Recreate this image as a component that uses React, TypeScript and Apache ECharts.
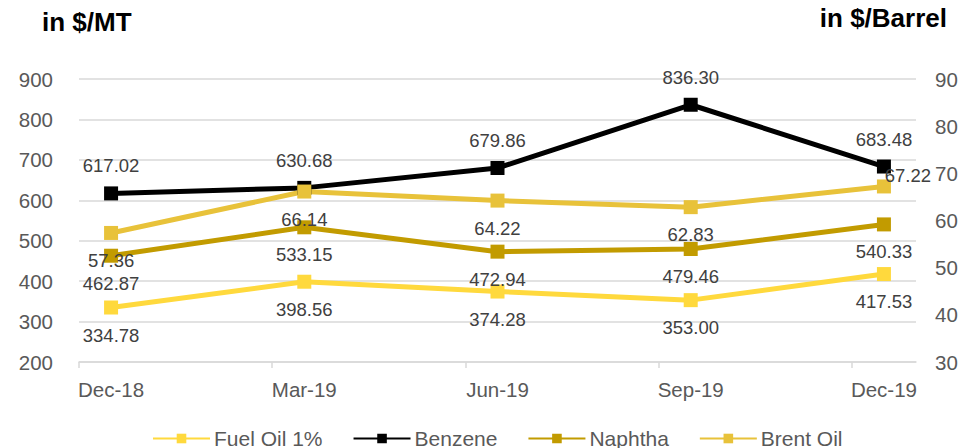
import React, { useEffect, useRef } from "react";
import * as echarts from "echarts";

const categories = ["Dec-18", "Mar-19", "Jun-19", "Sep-19", "Dec-19"];
const fuelOil = [334.78, 398.56, 374.28, 353.0, 417.53];
const benzene = [617.02, 630.68, 679.86, 836.3, 683.48];
const naphtha = [462.87, 533.15, 472.94, 479.46, 540.33];
const brentOil = [57.36, 66.14, 64.22, 62.83, 67.22];
const leftTicks = [200, 300, 400, 500, 600, 700, 800, 900];
const rightTicks = [30, 40, 50, 60, 70, 80, 90];

const FONT = "'Liberation Sans', Arial, sans-serif";
const LABEL_COLOR = "#404040";
const AXIS_COLOR = "#595959";
const FS = 18.5;
const AXIS_FS = 20.5;

export default function App() {
  const ref = useRef<HTMLDivElement>(null);
  useEffect(() => {
    if (!ref.current) return;
    const chart = echarts.init(ref.current, undefined, { renderer: "svg" });
    const pad = 0.166;
    const fmt = (p: any) => Number(p.value[1]).toFixed(2);
    const baseLabel = {
      show: true,
      fontFamily: FONT,
      fontSize: FS,
      color: LABEL_COLOR,
      formatter: fmt,
      distance: 11,
    };
    const mk = (
      name: string,
      arr: number[],
      color: string,
      yAxisIndex: number,
      position: string,
      special?: Record<number, any>
    ) => ({
      name,
      type: "line",
      yAxisIndex,
      symbol: "rect",
      symbolSize: 14,
      lineStyle: { width: 5, color },
      itemStyle: { color },
      label: { ...baseLabel, position },
      data: arr.map((v, i) =>
        special && special[i] ? { value: [i, v], label: special[i] } : { value: [i, v] }
      ),
    });
    chart.setOption({
      animation: false,
      textStyle: { fontFamily: FONT },
      grid: { left: 79, right: 60, top: 79, bottom: 86 },
      graphic: [
        {
          type: "text",
          left: 42,
          top: 9,
          style: { text: "in $/MT", font: `bold 26px ${FONT}`, fill: "#000" },
        },
        {
          type: "text",
          right: 29,
          top: 5,
          style: { text: "in $/Barrel", font: `bold 26px ${FONT}`, fill: "#000" },
        },
      ],
      legend: {
        left: 147,
        top: 423,
        itemWidth: 57,
        itemHeight: 12,
        itemGap: 30,
        textStyle: { fontFamily: FONT, fontSize: 21, color: AXIS_COLOR, padding: [0, 0, 0, -1] },
        data: ["Fuel Oil 1%", "Benzene", "Naphtha", "Brent Oil"],
      },
      xAxis: {
        type: "value",
        min: -pad,
        max: categories.length - 1 + pad,
        splitLine: { show: false },
        axisLine: { show: true, lineStyle: { color: "#d9d9d9", width: 1.5 } },
        axisTick: {
          show: true,
          length: 6,
          lineStyle: { color: "#d9d9d9", width: 1.5 },
          customValues: categories.map((_, i) => i - pad),
        },
        axisLabel: {
          customValues: categories.map((_, i) => i),
          formatter: (v: number) => categories[Math.round(v)] ?? "",
          fontSize: AXIS_FS,
          color: AXIS_COLOR,
          margin: 17,
          fontFamily: FONT,
        },
      },
      yAxis: [
        {
          type: "value",
          min: leftTicks[0],
          max: leftTicks[leftTicks.length - 1],
          interval: 100,
          axisLine: { show: false },
          axisTick: { show: false },
          splitLine: { lineStyle: { color: "#d9d9d9", width: 1.5 } },
          axisLabel: { fontSize: AXIS_FS, color: AXIS_COLOR, margin: 26, fontFamily: FONT },
        },
        {
          type: "value",
          min: rightTicks[0],
          max: rightTicks[rightTicks.length - 1],
          interval: 10,
          axisLine: { show: false },
          axisTick: { show: false },
          splitLine: { show: false },
          axisLabel: { fontSize: AXIS_FS, color: AXIS_COLOR, margin: 19, fontFamily: FONT },
        },
      ],
      series: [
        mk("Fuel Oil 1%", fuelOil, "#FFD93D", 0, "bottom"),
        mk("Benzene", benzene, "#000000", 0, "top"),
        mk("Naphtha", naphtha, "#C29B00", 0, "bottom"),
        mk("Brent Oil", brentOil, "#E8C23A", 1, "bottom", {
          4: { ...baseLabel, position: "inside", offset: [24, -11] },
        }),
      ],
    });
    return () => chart.dispose();
  }, []);
  return <div ref={ref} style={{ width: 976, height: 448, position: "absolute", left: 0, top: 0 }} />;
}
